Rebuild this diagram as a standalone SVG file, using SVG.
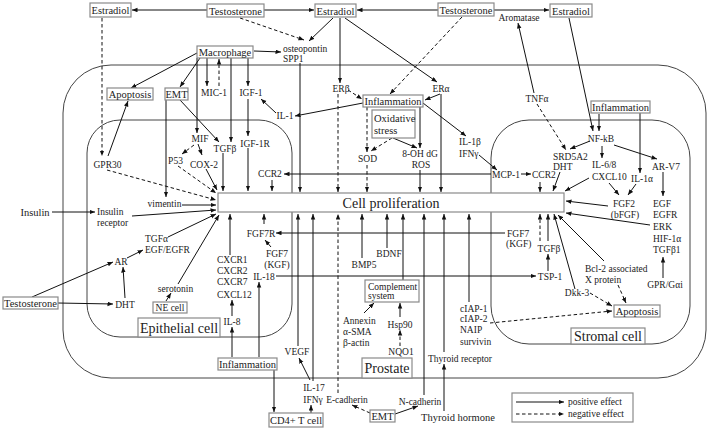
<svg xmlns="http://www.w3.org/2000/svg" width="709" height="430" viewBox="0 0 709 430">
<defs>
<marker id="a" markerUnits="userSpaceOnUse" markerWidth="6" markerHeight="5" refX="5.5" refY="2.25" orient="auto"><path d="M0,0 L5.5,2.25 L0,4.5 z" fill="#111"/></marker>
</defs>
<style>
.b{fill:#fff;stroke:#8a8a8a;stroke-width:1.2}
.f{fill:none;stroke:#444;stroke-width:1}
.s{fill:none;stroke:#111;stroke-width:1;marker-end:url(#a)}
.d{fill:none;stroke:#111;stroke-width:1;stroke-dasharray:3.5,2.5;marker-end:url(#a)}
text{font-family:"Liberation Serif",serif;font-size:9.5px;fill:#222}
.m{text-anchor:middle}
.k{font-size:10.5px}
.L{font-size:14px}
</style>
<rect width="709" height="430" fill="#fff"/>
<g id="frames">
<rect class="f" x="63" y="65" width="643" height="313" rx="48"/>
<rect class="f" x="87" y="120" width="205" height="217" rx="33"/>
<rect class="f" x="491" y="120" width="199" height="224" rx="38"/>
</g>
<g id="connectors">
<path class="s" d="M207,10 L132,10"/>
<path class="s" d="M264,10 L314,10"/>
<path class="s" d="M438,10 L357,10"/>
<path class="s" d="M494,10 L549,10"/>
<path class="d" d="M240,18 L304,40"/>
<path class="s" d="M333,18 L309,41"/>
<path class="s" d="M340,18 L340,83"/>
<path class="s" d="M345,18 L437,82"/>
<path class="d" d="M462,17 L390,94"/>
<path class="s" d="M534,93 L518,23"/>
<path class="s" d="M569,18 L593,131"/>
<path class="d" d="M102,18 L102,156"/>
<path class="s" d="M197,53 L131,88"/>
<path class="s" d="M200,58 L180,87"/>
<path class="s" d="M207,58 L207,86"/>
<path class="d" d="M219,86 L219,59"/>
<path class="s" d="M197,58 L197,133"/>
<path class="s" d="M231,58 L231,142"/>
<path class="s" d="M248,58 L248,86"/>
<path class="s" d="M254,51 L281,52"/>
<path class="s" d="M248,99 L248,136"/>
<path class="s" d="M276,113 L261,99"/>
<path class="s" d="M363,103 L295,116"/>
<path class="d" d="M348,90 L362,99"/>
<path class="s" d="M440,94 L425,100"/>
<path class="s" d="M441,94 L441,192"/>
<path class="d" d="M338,94 L338,192"/>
<path class="s" d="M300,63 L300,192"/>
<path class="s" d="M423,103 L466,136"/>
<path class="d" d="M367,107 L367,152"/>
<path class="s" d="M420,107 L420,148"/>
<path class="d" d="M392,138 L371,151"/>
<path class="s" d="M393,138 L417,148"/>
<path class="d" d="M367,165 L367,192"/>
<path class="s" d="M420,170 L420,192"/>
<path class="s" d="M479,155 L497,170"/>
<path class="s" d="M491,174 L284,174"/>
<path class="s" d="M521,174 L531,174"/>
<path class="s" d="M272,180 L272,191"/>
<path class="s" d="M540,182 L540,192"/>
<path class="s" d="M599,114 L599,131"/>
<path class="s" d="M640,113 L640,173"/>
<path class="d" d="M537,104 L566,150"/>
<path class="s" d="M590,141 L570,149"/>
<path class="s" d="M602,146 L602,158"/>
<path class="s" d="M614,145 L657,159"/>
<path class="s" d="M560,172 L553,191"/>
<path class="s" d="M589,178 L565,191"/>
<path class="s" d="M609,183 L619,195"/>
<path class="s" d="M636,184 L628,195"/>
<path class="s" d="M608,206 L566,201"/>
<path class="s" d="M650,225 L566,213"/>
<path class="s" d="M663,172 L663,196"/>
<path class="s" d="M663,278 L663,257"/>
<path class="s" d="M548,241 L548,214"/>
<path class="d" d="M540,241 L540,214"/>
<path class="s" d="M548,271 L548,254"/>
<path class="s" d="M276,276 L536,276"/>
<path class="s" d="M604,261 L558,215"/>
<path class="s" d="M575,289 L554,214"/>
<path class="d" d="M618,285 L626,303"/>
<path class="d" d="M590,293 L612,306"/>
<path class="d" d="M490,323 L612,311"/>
<path class="s" d="M469,302 L469,214"/>
<path class="s" d="M444,352 L444,214"/>
<path class="s" d="M444,411 L444,364"/>
<path class="s" d="M424,395 L424,214"/>
<path class="s" d="M395,414 L418,406"/>
<path class="d" d="M370,413 L352,405"/>
<path class="d" d="M338,393 L338,214"/>
<path class="s" d="M403,280 L403,214"/>
<path class="s" d="M387,248 L387,214"/>
<path class="s" d="M362,258 L362,214"/>
<path class="s" d="M400,317 L400,303"/>
<path class="d" d="M400,346 L400,330"/>
<path class="s" d="M364,313 L374,303"/>
<path class="s" d="M505,233 L276,233"/>
<path class="s" d="M271,247 L265,240"/>
<path class="s" d="M264,224 L264,214"/>
<path class="s" d="M230,255 L230,214"/>
<path class="s" d="M232,316 L232,300"/>
<path class="s" d="M232,357 L232,327"/>
<path class="s" d="M259,357 L259,282"/>
<path class="s" d="M274,370 L274,412"/>
<path class="s" d="M311,413 L311,405"/>
<path class="s" d="M310,380 L299,358"/>
<path class="s" d="M298,346 L298,214"/>
<path class="s" d="M313,381 L313,214"/>
<path class="s" d="M178,284 L219,215"/>
<path class="s" d="M166,301 L171,293"/>
<path class="s" d="M52,212 L95,212"/>
<path class="s" d="M132,216 L216,210"/>
<path class="s" d="M182,205 L216,205"/>
<path class="s" d="M166,100 L166,197"/>
<path class="s" d="M180,100 L219,142"/>
<path class="d" d="M194,145 L182,154"/>
<path class="s" d="M198,144 L202,155"/>
<path class="s" d="M206,169 L217,190"/>
<path class="d" d="M178,166 L216,193"/>
<path class="d" d="M107,170 L216,200"/>
<path class="s" d="M108,156 L128,101"/>
<path class="s" d="M223,153 L223,191"/>
<path class="s" d="M248,148 L248,191"/>
<path class="s" d="M168,237 L216,214"/>
<path class="s" d="M127,258 L143,250"/>
<path class="s" d="M32,297 L113,262"/>
<path class="s" d="M58,303 L113,304"/>
<path class="s" d="M125,298 L123,267"/>
</g>
<g id="cell-proliferation"><rect class="b" x="218" y="193" width="346" height="19"/><text class="m L" x="391" y="207.5">Cell proliferation</text></g>
<g id="estradiol-1"><rect class="b" x="90" y="3" width="41" height="14"/><text class="m k" x="110.5" y="14">Estradiol</text></g>
<g id="testosterone-1"><rect class="b" x="207" y="4" width="57" height="13"/><text class="m k" x="235.5" y="14.5">Testosterone</text></g>
<g id="estradiol-2"><rect class="b" x="315" y="4" width="41" height="13"/><text class="m k" x="335.5" y="14.5">Estradiol</text></g>
<g id="testosterone-2"><rect class="b" x="438" y="3" width="56" height="13"/><text class="m k" x="466" y="14">Testosterone</text></g>
<g id="aromatase"><text class="m" x="519" y="21">Aromatase</text></g>
<g id="estradiol-3"><rect class="b" x="550" y="4" width="42" height="13"/><text class="m k" x="571" y="14.5">Estradiol</text></g>
<g id="macrophage"><rect class="b" x="197" y="46" width="56" height="12"/><text class="m k" x="225" y="55.5">Macrophage</text></g>
<g id="osteopontin"><text x="283" y="52">osteopontin</text><text x="283" y="62">SPP1</text></g>
<g id="er-beta"><text class="m" x="341" y="92">ERβ</text></g>
<g id="er-alpha"><text class="m" x="441" y="92">ERα</text></g>
<g id="apoptosis-1"><rect class="b" x="107" y="88" width="46" height="12"/><text class="m k" x="130" y="97.5">Apoptosis</text></g>
<g id="emt-1"><rect class="b" x="165" y="88" width="23" height="12"/><text class="m k" x="176.5" y="97.5">EMT</text></g>
<g id="mic-1"><text class="m" x="214" y="96">MIC-1</text></g>
<g id="igf-1"><text class="m" x="251" y="96">IGF-1</text></g>
<g id="il-1"><text class="m" x="285" y="119">IL-1</text></g>
<g id="inflammation-1"><rect class="b" x="363" y="95" width="60" height="12"/><text class="m k" x="393" y="104.5">Inflammation</text></g>
<g id="oxidative-stress"><rect class="b" x="372" y="110" width="43" height="28"/><text x="374" y="122" class="k">Oxidative</text><text x="374" y="134" class="k">stress</text></g>
<g id="mif"><text class="m" x="200" y="142">MIF</text></g>
<g id="p53"><text class="m" x="175.5" y="164">P53</text></g>
<g id="tgfb-1"><text class="m" x="225" y="152">TGFβ</text></g>
<g id="cox-2"><text class="m" x="204" y="168">COX-2</text></g>
<g id="igf-1r"><text class="m" x="255" y="147">IGF-1R</text></g>
<g id="gpr30"><text class="m" x="107.5" y="168">GPR30</text></g>
<g id="il-1b"><text x="459" y="145">IL-1β</text><text x="459" y="157">IFNγ</text></g>
<g id="sod"><text class="m" x="367.5" y="162">SOD</text></g>
<g id="ros"><text class="m" x="420" y="157">8-OH dG</text><text class="m" x="421" y="168">ROS</text></g>
<g id="ccr2-1"><text class="m" x="270" y="177">CCR2</text></g>
<g id="mcp-1"><text x="492" y="178">MCP-1</text></g>
<g id="ccr2-2"><text x="532" y="178">CCR2</text></g>
<g id="tnfa"><text class="m" x="537" y="102">TNFα</text></g>
<g id="inflammation-2"><rect class="b" x="591" y="101" width="59" height="12"/><text class="m k" x="620.5" y="110.5">Inflammation</text></g>
<g id="nf-kb"><text class="m" x="601" y="142">NF-kB</text></g>
<g id="srd5a2"><text x="553" y="160">SRD5A2</text><text x="553" y="170">DHT</text></g>
<g id="il-6-8"><text x="592" y="168">IL-6/8</text><text x="592" y="180">CXCL10</text></g>
<g id="il-1a"><text class="m" x="642" y="182">IL-1α</text></g>
<g id="ar-v7"><text class="m" x="666" y="170">AR-V7</text></g>
<g id="fgf2"><text class="m" x="624" y="207">FGF2</text><text class="m" x="625" y="218">(bFGF)</text></g>
<g id="egf"><text x="653" y="207">EGF</text><text x="653" y="218">EGFR</text><text x="653" y="230">ERK</text><text x="653" y="242">HIF-1α</text><text x="653" y="253">TGFβ1</text></g>
<g id="gpr-gai"><text class="m" x="665" y="288">GPR/Gαi</text></g>
<g id="tgfb-2"><text class="m" x="549" y="252">TGFβ</text></g>
<g id="tsp-1"><text class="m" x="550" y="280">TSP-1</text></g>
<g id="bcl-2"><text x="585" y="272">Bcl-2 associated</text><text x="585" y="283">X protein</text></g>
<g id="dkk-3"><text class="m" x="577" y="296">Dkk-3</text></g>
<g id="apoptosis-2"><rect class="b" x="614" y="305" width="46" height="12"/><text class="m k" x="637" y="314.5">Apoptosis</text></g>
<g id="stromal-cell"><rect class="b" x="571" y="328" width="74" height="16"/><text class="m L" x="608" y="341">Stromal cell</text></g>
<g id="ciap"><text x="460" y="312">cIAP-1</text><text x="460" y="322">cIAP-2</text><text x="460" y="333">NAIP</text><text x="460" y="345">survivin</text></g>
<g id="fgf7-2"><text x="507" y="237">FGF7</text><text x="506" y="247">(KGF)</text></g>
<g id="fgf7r"><text class="m" x="261" y="237">FGF7R</text></g>
<g id="fgf7-1"><text class="m" x="277" y="257">FGF7</text><text class="m" x="277" y="268">(KGF)</text></g>
<g id="cxcr"><text x="217" y="263">CXCR1</text><text x="217" y="274">CXCR2</text><text x="217" y="285">CXCR7</text><text x="217" y="298">CXCL12</text></g>
<g id="il-18"><text class="m" x="264" y="280">IL-18</text></g>
<g id="bmp5"><text class="m" x="364" y="268">BMP5</text></g>
<g id="bdnf"><text class="m" x="389" y="257">BDNF</text></g>
<g id="complement"><rect class="b" x="365" y="280" width="54" height="22"/><text x="368" y="289.5">Complement</text><text x="368" y="299">system</text></g>
<g id="annexin"><text x="343" y="324">Annexin</text><text x="343" y="335">α-SMA</text><text x="343" y="346">β-actin</text></g>
<g id="hsp90"><text class="m" x="400" y="328">Hsp90</text></g>
<g id="nqo1"><text class="m" x="401" y="355">NQO1</text></g>
<g id="prostate"><rect class="b" x="362" y="358" width="50" height="20"/><text class="m L" x="387" y="373">Prostate</text></g>
<g id="thyroid-receptor"><text class="m" x="460" y="362">Thyroid receptor</text></g>
<g id="thyroid-hormone"><text class="m k" x="458" y="421">Thyroid hormone</text></g>
<g id="n-cadherin"><text class="m" x="420" y="405">N-cadherin</text></g>
<g id="e-cadherin"><text class="m" x="347" y="403">E-cadherin</text></g>
<g id="emt-2"><rect class="b" x="370" y="410" width="25" height="12"/><text class="m k" x="382.5" y="419.5">EMT</text></g>
<g id="il-17"><text class="m" x="314" y="391">IL-17</text><text class="m" x="313" y="403">IFNγ</text></g>
<g id="cd4-t-cell"><rect class="b" x="269" y="413" width="54" height="14"/><text class="m k" x="296" y="424">CD4+ T cell</text></g>
<g id="vegf"><text class="m" x="297" y="355">VEGF</text></g>
<g id="inflammation-3"><rect class="b" x="218" y="358" width="59" height="12"/><text class="m k" x="247.5" y="367.5">Inflammation</text></g>
<g id="il-8"><text class="m" x="232" y="325">IL-8</text></g>
<g id="epithelial-cell"><rect class="b" x="138" y="318" width="82" height="19"/><text class="m L" x="179" y="332.5">Epithelial cell</text></g>
<g id="ne-cell"><rect class="b" x="153" y="302" width="34" height="11"/><text class="m" x="170" y="310.5">NE cell</text></g>
<g id="serotonin"><text class="m" x="175.5" y="292">serotonin</text></g>
<g id="insulin"><text class="m k" x="35" y="216">Insulin</text></g>
<g id="insulin-receptor"><text x="97" y="215">Insulin</text><text x="97" y="226">receptor</text></g>
<g id="vimentin"><text class="m" x="164.5" y="207">vimentin</text></g>
<g id="tgfa"><text x="145" y="242">TGFα</text><text x="145" y="253">EGF/EGFR</text></g>
<g id="ar"><text class="m" x="121" y="265">AR</text></g>
<g id="dht-1"><text class="m" x="125" y="308">DHT</text></g>
<g id="testosterone-3"><rect class="b" x="3" y="297" width="55" height="12"/><text class="m k" x="30.5" y="306.5">Testosterone</text></g>
<g id="legend"><rect class="b" x="512" y="393" width="121" height="29"/><path class="s" d="M516,402 L564,402"/><path class="d" d="M516,414 L564,414"/><text x="568" y="405">positive effect</text><text x="568" y="417">negative effect</text></g>
</svg>
